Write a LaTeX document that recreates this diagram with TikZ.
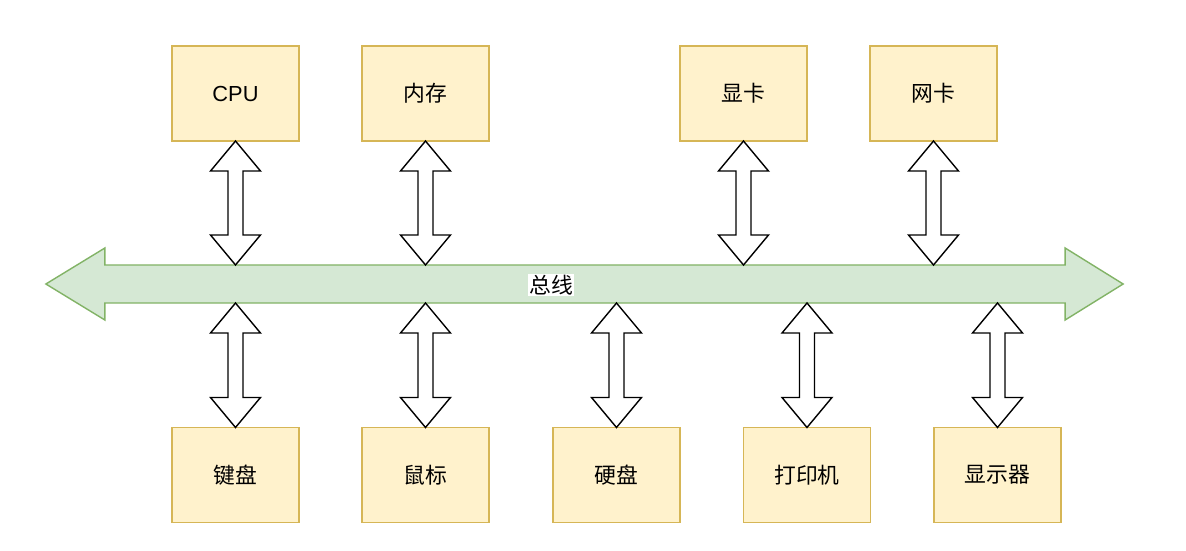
\documentclass[tikz,border=0pt]{standalone}
\usepackage{fontspec}
\setmainfont{Liberation Sans}
\newfontfamily\cjk{Noto Sans CJK SC}
\usetikzlibrary{calc}
\usepackage{xcolor}
\definecolor{boxfill}{HTML}{FFF2CC}
\definecolor{boxline}{HTML}{D6B656}
\definecolor{busfill}{HTML}{D5E8D4}
\definecolor{busline}{HTML}{82B366}

% hollow double-headed block arrow, tip (#1) above tip (#2)
\newcommand{\linkarrow}[2]{%
  \draw[link] (#1) -- ++(25,30) -- ++(-17.5,0) -- ($(#2)+(7.5,-30)$)
    -- ++(17.5,0) -- (#2) -- ++(-25,-30) -- ++(17.5,0)
    -- ($(#1)+(-7.5,30)$) -- ++(-17.5,0) -- cycle;}

\begin{document}
\begin{tikzpicture}[
    x=0.025cm, y=-0.025cm,
    unit/.style={
        rectangle,
        minimum width=3.175cm,
        minimum height=2.375cm,
        draw=boxline,
        line width=1pt,
        fill=boxfill,
        font=\cjk\fontsize{15.5}{18}\selectfont,
        inner sep=0pt,
        outer sep=0pt
    },
    link/.style={
        draw=black,
        fill=white,
        line width=1pt,
        line join=miter
    },
    buspath/.style={
        draw=busline,
        fill=busfill,
        line width=1pt
    }
]

\useasboundingbox (0,0) rectangle (1186,551);

% Bus
\node[inner sep=0pt, outer sep=0pt, minimum width=24cm, minimum height=0.95cm] (bus) at (585,284) {};
\draw[buspath] (bus.north west) -- (bus.north east) -- ++(0,-17)
    -- ($(bus.east)+(58,0)$) -- ($(bus.south east)+(0,17)$)
    -- (bus.south east) -- (bus.south west) -- ++(0,17)
    -- ($(bus.west)+(-59,0)$) -- ($(bus.north west)+(0,-17)$) -- cycle;
\node[fill=white, inner sep=1pt, font=\cjk\fontsize{15.5}{18}\selectfont] (buslabel) at (551,285) {总线};

% Top units
\node[unit, font=\fontsize{15.5}{18}\selectfont] (cpu) at (235.5,93.5) {CPU};
\node[unit] (mem) at (425.5,93.5) {内存};
\node[unit] (gpu) at (743.5,93.5) {显卡};
\node[unit] (nic) at (933.5,93.5) {网卡};

% Bottom units
\node[unit] (kbd) at (235.5,475) {键盘};
\node[unit] (mouse) at (425.5,475) {鼠标};
\node[unit] (disk) at (616.5,475) {硬盘};
\node[unit] (printer) at (807,475) {打印机};
\node[unit] (monitor) at (997.5,475) {显示器};

% Links to the bus
\linkarrow{cpu.south}{cpu.south |- bus.north}
\linkarrow{mem.south}{mem.south |- bus.north}
\linkarrow{gpu.south}{gpu.south |- bus.north}
\linkarrow{nic.south}{nic.south |- bus.north}

\linkarrow{kbd.north |- bus.south}{kbd.north}
\linkarrow{mouse.north |- bus.south}{mouse.north}
\linkarrow{disk.north |- bus.south}{disk.north}
\linkarrow{printer.north |- bus.south}{printer.north}
\linkarrow{monitor.north |- bus.south}{monitor.north}

\end{tikzpicture}
\end{document}
